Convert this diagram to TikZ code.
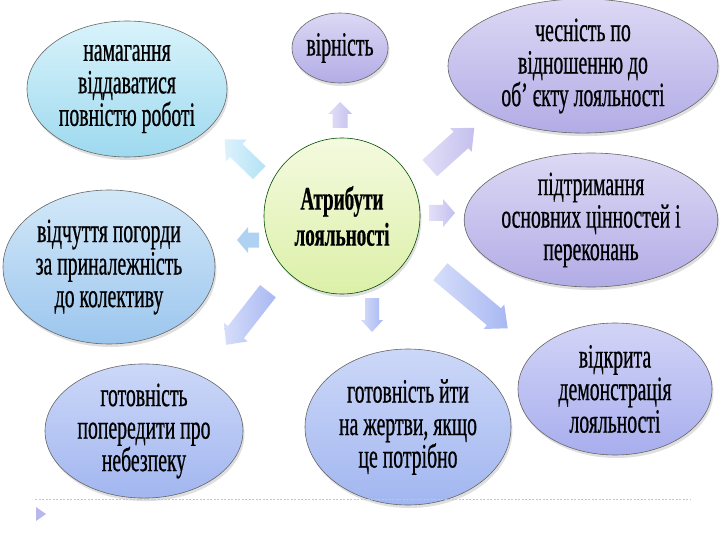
\documentclass[tikz,border=0pt]{standalone}
\usepackage{fontspec}
\setmainfont[FakeStretch=0.58, FakeBold=0.6]{Liberation Serif}
\usetikzlibrary{shapes.geometric,shadows}

\definecolor{cyanT}{HTML}{D8F3FB}
\definecolor{cyanB}{HTML}{9ED9EF}
\definecolor{skyT}{HTML}{D2E8F8}
\definecolor{skyB}{HTML}{9CC6EE}
\definecolor{lavT}{HTML}{DCD8F4}
\definecolor{lavB}{HTML}{B2ACE6}
\definecolor{periT}{HTML}{D2D4F6}
\definecolor{periB}{HTML}{A8AEEE}
\definecolor{bluT}{HTML}{CCD8F8}
\definecolor{bluB}{HTML}{A2B6F0}
\definecolor{cenT}{HTML}{F4FADF}
\definecolor{cenB}{HTML}{DCF0A8}
\definecolor{arrLav}{HTML}{C4C0EE}
\definecolor{arrLavL}{HTML}{E2E0F8}
\definecolor{arrCyan}{HTML}{B4E2F6}
\definecolor{arrCyanL}{HTML}{DCF2FB}
\definecolor{arrBlue}{HTML}{A8B8F2}
\definecolor{arrBlueL}{HTML}{D6DEFA}
\definecolor{arrSky}{HTML}{B0D2F2}

\tikzset{
  bubble/.style={ellipse, draw=black!60, line width=0.6pt, align=center,
    inner sep=0pt, text=black,
    font=\fontsize{34}{32.5}\selectfont,
    drop shadow={opacity=0.25, shadow xshift=1.5pt, shadow yshift=-3pt}},
  centre/.style={bubble, draw=black!70!green, font=\bfseries\fontsize{33}{36}\selectfont,
    top color=cenT, bottom color=cenB},
  cyanbub/.style={top color=cyanT, bottom color=cyanB},
  skybub/.style={top color=skyT, bottom color=skyB},
  lavbub/.style={top color=lavT, bottom color=lavB},
  peribub/.style={top color=periT, bottom color=periB},
  blubub/.style={top color=bluT, bottom color=bluB},
  lavarrow/.style={left color=arrLavL, right color=arrLav},
  cyanarrow/.style={left color=arrCyanL, right color=arrCyan},
  bluearrow/.style={left color=arrBlueL, right color=arrBlue},
  skyarrow/.style={fill=arrSky},
}

% cx cy angle length shaft head headlen style
\newcommand\myblockarrow[8]{%
  \begin{scope}[shift={(#1,#2)}, rotate=#3]
    \path[#8] (-#4/2,-#5/2) -- (#4/2-#7,-#5/2) -- (#4/2-#7,-#6/2) -- (#4/2,0)
      -- (#4/2-#7,#6/2) -- (#4/2-#7,#5/2) -- (-#4/2,#5/2) -- cycle;
  \end{scope}}

\begin{document}
\begin{tikzpicture}[x=1pt,y=-1pt]
\useasboundingbox[fill=white] (0,0) rectangle (720,540);

% block arrows
\myblockarrow{340}{115}{90}{26}{15}{24}{12}{lavarrow}
\myblockarrow{242}{156}{136}{48}{18}{30}{16}{cyanarrow}
\myblockarrow{452}{148}{42}{60}{22}{32}{18}{lavarrow}
\myblockarrow{442}{213}{0}{26}{16}{28}{12}{lavarrow}
\myblockarrow{248}{240}{180}{22}{15}{26}{11}{skyarrow}
\myblockarrow{247}{318}{232}{68}{20}{30}{16}{bluearrow}
\myblockarrow{372}{315}{-90}{34}{14}{22}{12}{bluearrow}
\myblockarrow{474}{300}{-40}{88}{22}{32}{18}{bluearrow}

% ellipses
\node[bubble, cyanbub, minimum width=200, minimum height=136] (effort) at (127,89)
  {намагання\\віддаватися\\повністю роботі};
\node[bubble, lavbub, minimum width=96, minimum height=70] (fidelity) at (340,48)
  {вірність};
\node[bubble, lavbub, minimum width=270, minimum height=120] (honesty) at (583,66)
  {чесність по\\відношенню до\\об’ єкту лояльності};
\node[bubble, lavbub, minimum width=252, minimum height=128] (values) at (591,220)
  {підтримання\\основних цінностей і\\переконань};
\node[bubble, skybub, minimum width=212, minimum height=154] (pride) at (109,267)
  {відчуття погорди\\за приналежність\\до колективу};
\node[bubble, peribub, minimum width=194, minimum height=132] (demo) at (615,389)
  {відкрита\\демонстрація\\лояльності};
\node[bubble, blubub, minimum width=198, minimum height=124] (warn) at (144,431)
  {готовність\\попередити про\\небезпеку};
\node[bubble, blubub, minimum width=206, minimum height=156] (sacrifice) at (408,427)
  {готовність йти\\на жертви, якщо\\це потрібно};

\node[centre, minimum width=156, minimum height=156] (core) at (342,216)
  {Атрибути\\лояльності};

% footer
\coordinate (lineL) at (35,499);
\coordinate (lineR) at (690,499);
\draw[gray!45, dashed, dash pattern=on 2pt off 1.5pt, line width=0.6pt] (lineL) -- (lineR);
\fill[gray!40!blue!35!white] (36,507) -- (46,514) -- (36,521) -- cycle;
\end{tikzpicture}
\end{document}
